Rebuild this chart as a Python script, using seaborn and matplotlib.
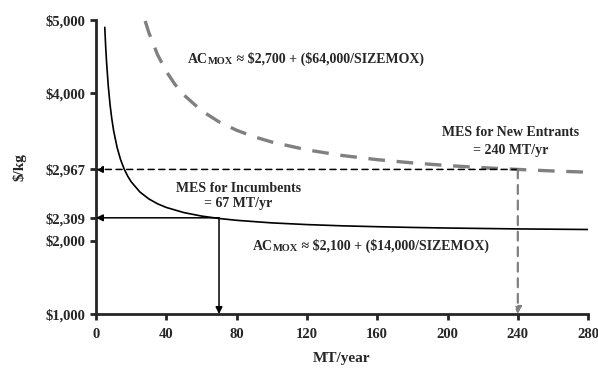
import matplotlib
matplotlib.use("Agg")
import matplotlib.pyplot as plt
import seaborn as sns
import pandas as pd

# Average cost curves ($/kg vs MT/year)
incumbent_size = [5, 5.5, 6, 7, 8, 9, 10, 12, 14, 16, 18, 20, 25, 30, 35, 40, 50, 60, 70,
                  80, 100, 120, 140, 160, 180, 200, 220, 240, 260, 280]
incumbent_cost = [4900, 4645, 4433, 4100, 3850, 3656, 3500, 3267, 3100, 2975, 2878, 2800,
                  2660, 2567, 2500, 2450, 2380, 2333, 2300, 2275, 2240, 2217, 2200, 2188,
                  2178, 2170, 2164, 2158, 2154, 2150]
entrant_size = [28, 30, 35, 40, 45, 50, 60, 70, 80, 90, 100, 120, 140, 160, 180, 200,
                220, 240, 260, 280]
entrant_cost = [4986, 4833, 4529, 4300, 4122, 3980, 3767, 3614, 3500, 3411, 3340, 3233,
                3157, 3100, 3056, 3020, 2991, 2967, 2946, 2929]

# MES points
mes_incumbent = (70, 2309)
mes_entrant = (240, 2967)

y_ticks = [1000, 2000, 2309, 2967, 4000, 5000]
y_labels = ["$1,000", "$2,000", "$2,309", "$2,967", "$4,000", "$5,000"]
x_ticks = [0, 40, 80, 120, 160, 200, 240, 280]

sns.set_style("ticks")
plt.rcParams["font.family"] = ["Liberation Serif", "DejaVu Serif"]
plt.rcParams["font.weight"] = "bold"

inc = pd.DataFrame({"size": incumbent_size, "cost": incumbent_cost})
ent = pd.DataFrame({"size": entrant_size, "cost": entrant_cost})

fig = plt.figure(figsize=(5.98, 3.77), dpi=100)
ax = fig.add_axes([0.1605, 0.167, 0.823, 0.78])

sns.lineplot(data=inc, x="size", y="cost", color="black", linewidth=1.2, ax=ax)
sns.lineplot(data=ent, x="size", y="cost", color="#808080", linewidth=2.4, ax=ax)
ax.lines[-1].set_dashes([5, 3.5])

# MES arrows
ax.annotate("", xy=(0, mes_entrant[1]), xytext=mes_entrant,
            arrowprops=dict(arrowstyle="-|>", color="black", lw=1.1, ls=(0, (4, 3)),
                            mutation_scale=10, shrinkA=0, shrinkB=0))
ax.annotate("", xy=(mes_entrant[0], 1000), xytext=mes_entrant,
            arrowprops=dict(arrowstyle="-|>", color="#808080", lw=1.6, ls=(0, (4, 3)),
                            mutation_scale=10, shrinkA=0, shrinkB=0))
ax.annotate("", xy=(0, mes_incumbent[1]), xytext=mes_incumbent,
            arrowprops=dict(arrowstyle="-|>", color="black", lw=1.1,
                            mutation_scale=10, shrinkA=0, shrinkB=0))
ax.annotate("", xy=(mes_incumbent[0], 1000), xytext=mes_incumbent,
            arrowprops=dict(arrowstyle="-|>", color="black", lw=1.1,
                            mutation_scale=10, shrinkA=0, shrinkB=0))

FS = 10


def ac_label(x, y, rest):
    t1 = ax.text(x, y, "AC", fontsize=FS, fontweight="bold", va="baseline")
    t2 = ax.annotate("MOX", xy=(1, 0), xycoords=t1, fontsize=7.5, fontweight="bold",
                     va="bottom")
    ax.annotate(rest, xy=(1, 0), xycoords=t2, fontsize=FS, fontweight="bold",
                va="bottom")


ac_label(52, 4415, " \u2248 \\$2,700 + (\\$64,000/SIZEMOX)")
ac_label(89, 1871, " \u2248 \\$2,100 + (\\$14,000/SIZEMOX)")

ax.text(236, 3476, "MES for New Entrants", fontsize=FS, fontweight="bold",
        ha="center", va="center")
ax.text(236, 3231, "= 240 MT/yr", fontsize=FS, fontweight="bold",
        ha="center", va="center")
ax.text(81, 2714, "MES for Incumbents", fontsize=FS, fontweight="bold",
        ha="center", va="center")
ax.text(81, 2510, "= 67 MT/yr", fontsize=FS, fontweight="bold",
        ha="center", va="center")

ax.set_xlim(0, 280)
ax.set_ylim(1000, 5000)
ax.set_xticks(x_ticks)
ax.set_yticks(y_ticks)
ax.set_yticklabels(y_labels)
ax.tick_params(labelsize=10.5, width=2, length=4, direction="out")
for lab in ax.get_xticklabels() + ax.get_yticklabels():
    lab.set_fontweight("bold")
ax.tick_params(axis="x", pad=6)

for side in ["left", "bottom"]:
    ax.spines[side].set_linewidth(2)
sns.despine(ax=ax)

ax.set_xlabel("MT/year", fontsize=11, fontweight="bold", labelpad=8)
ax.set_ylabel("$/kg", fontsize=11, fontweight="bold", labelpad=14)

fig.savefig("out.png", dpi=100)
